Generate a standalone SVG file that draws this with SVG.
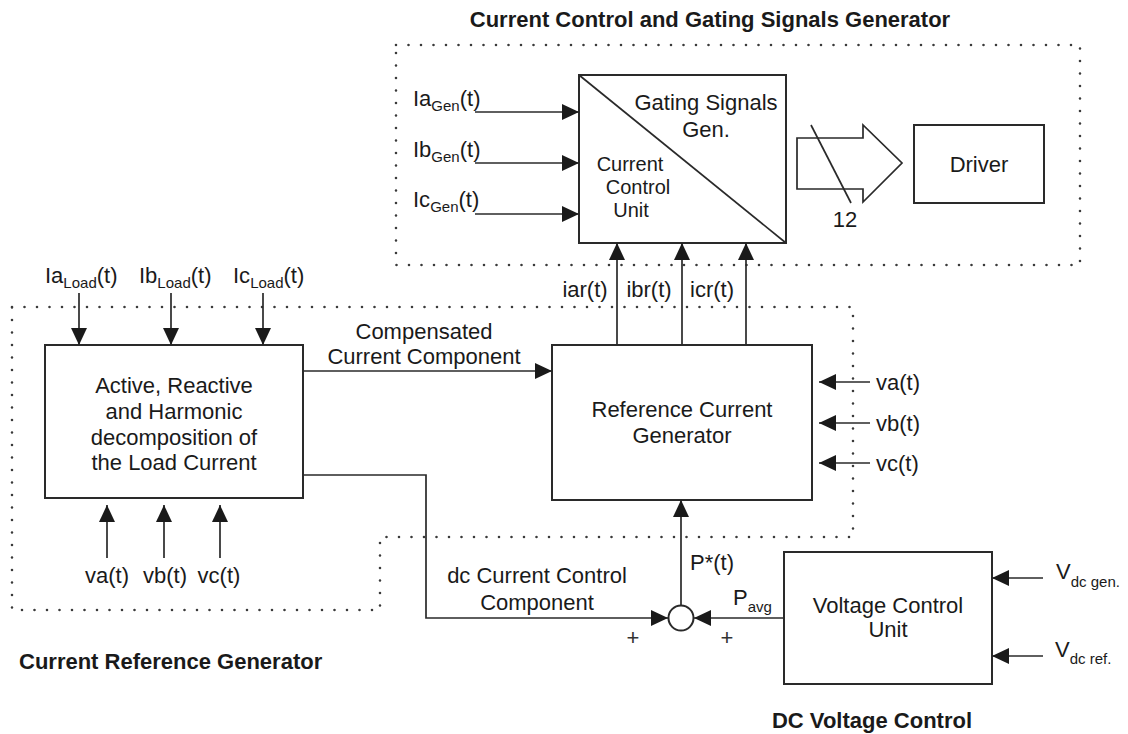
<svg xmlns="http://www.w3.org/2000/svg" width="1128" height="734" viewBox="0 0 1128 734">
<defs>
<marker id="ah" viewBox="0 0 17 16" refX="17" refY="8" markerWidth="17" markerHeight="16" markerUnits="userSpaceOnUse" orient="auto">
<path d="M0,0 L17,8 L0,16 z" fill="#1a1a1a"/>
</marker>
<style>
.t{font-family:"Liberation Sans",Arial,sans-serif;font-size:22px;fill:#1a1a1a}
.c{font-size:20px}
.s{font-size:15px}
.p{font-family:"Liberation Sans",Arial,sans-serif;font-size:22px;fill:#333}
.b{font-family:"Liberation Sans",Arial,sans-serif;font-size:22px;font-weight:bold;fill:#1a1a1a}
.box{fill:#fff;stroke:#2a2a2a;stroke-width:2}
.ln{fill:none;stroke:#2a2a2a;stroke-width:1.7}
.dot{fill:none;stroke:#3a3a3a;stroke-width:2.6;stroke-dasharray:0 12.5;stroke-linecap:round}
</style>
</defs>
<rect width="1128" height="734" fill="#fff"/>

<g id="regions">
<path class="dot" d="M396,45 H1080 V265 H396 Z"/>
<path class="dot" d="M12,307 H853 V537 H380 V610 H12 Z"/>
</g>

<g id="titles">
<text class="b" x="710" y="27" text-anchor="middle">Current Control and Gating Signals Generator</text>
<text class="b" x="19" y="669">Current Reference Generator</text>
<text class="b" x="872" y="728" text-anchor="middle">DC Voltage Control</text>
</g>

<g id="ccu">
<rect class="box" x="579" y="75" width="207" height="168"/>
<line class="ln" x1="579" y1="75" x2="786" y2="243"/>
<text class="t" x="706" y="110" text-anchor="middle">Gating Signals</text>
<text class="t" x="706" y="137" text-anchor="middle">Gen.</text>
<text class="t c" x="630" y="171" text-anchor="middle">Current</text>
<text class="t c" x="638" y="194" text-anchor="middle">Control</text>
<text class="t c" x="631" y="217" text-anchor="middle">Unit</text>
</g>

<g id="bus">
<path class="ln" d="M797,138 H863 V125 L902,163 L863,202 V189 H797 Z"/>
<line class="ln" x1="811" y1="125" x2="851" y2="203"/>
<text class="t" x="845" y="227" text-anchor="middle">12</text>
</g>

<g id="driver">
<rect class="box" x="914" y="125" width="130" height="78"/>
<text class="t" x="979" y="172" text-anchor="middle">Driver</text>
</g>

<g id="gen-inputs">
<text class="t" x="413" y="106">Ia<tspan class="s" dy="5">Gen</tspan><tspan dy="-5">(t)</tspan></text>
<text class="t" x="413" y="157">Ib<tspan class="s" dy="5">Gen</tspan><tspan dy="-5">(t)</tspan></text>
<text class="t" x="413" y="207">Ic<tspan class="s" dy="5">Gen</tspan><tspan dy="-5">(t)</tspan></text>
</g>

<g id="decomp">
<rect class="box" x="45" y="345" width="258" height="153"/>
<text class="t" x="174" y="393" text-anchor="middle">Active, Reactive</text>
<text class="t" x="174" y="419" text-anchor="middle">and Harmonic</text>
<text class="t" x="174" y="445" text-anchor="middle">decomposition of</text>
<text class="t" x="174" y="470" text-anchor="middle">the Load Current</text>
</g>

<g id="load-inputs">
<text class="t" x="45" y="283">Ia<tspan class="s" dy="5">Load</tspan><tspan dy="-5">(t)</tspan></text>
<text class="t" x="139" y="283">Ib<tspan class="s" dy="5">Load</tspan><tspan dy="-5">(t)</tspan></text>
<text class="t" x="233" y="283">Ic<tspan class="s" dy="5">Load</tspan><tspan dy="-5">(t)</tspan></text>
<text class="t" x="107" y="583" text-anchor="middle">va(t)</text>
<text class="t" x="165" y="583" text-anchor="middle">vb(t)</text>
<text class="t" x="219" y="583" text-anchor="middle">vc(t)</text>
</g>

<g id="refgen">
<rect class="box" x="552" y="345" width="260" height="155"/>
<text class="t" x="682" y="417" text-anchor="middle">Reference Current</text>
<text class="t" x="682" y="443" text-anchor="middle">Generator</text>
<text class="t" x="876" y="390">va(t)</text>
<text class="t" x="876" y="431">vb(t)</text>
<text class="t" x="876" y="471">vc(t)</text>
<text class="t" x="585" y="297" text-anchor="middle">iar(t)</text>
<text class="t" x="649" y="297" text-anchor="middle">ibr(t)</text>
<text class="t" x="712" y="297" text-anchor="middle">icr(t)</text>
</g>

<g id="sum">
<circle cx="681" cy="618" r="12.5" fill="#fff" stroke="#2a2a2a" stroke-width="2"/>
<text class="p" x="633" y="645" text-anchor="middle">+</text>
<text class="p" x="727" y="645" text-anchor="middle">+</text>
<text class="t" x="690" y="570">P*(t)</text>
<text class="t" x="733" y="605">P<tspan class="s" dy="7">avg</tspan></text>
</g>

<g id="vcu">
<rect class="box" x="784" y="552" width="208" height="132"/>
<text class="t" x="888" y="613" text-anchor="middle">Voltage Control</text>
<text class="t" x="888" y="637" text-anchor="middle">Unit</text>
<text class="t" x="1056" y="579">V<tspan class="s" dy="8">dc gen.</tspan></text>
<text class="t" x="1055" y="657">V<tspan class="s" dy="7">dc ref.</tspan></text>
</g>

<g id="labels">
<text class="t" x="424" y="339" text-anchor="middle">Compensated</text>
<text class="t" x="424" y="364" text-anchor="middle">Current Component</text>
<text class="t" x="537" y="583" text-anchor="middle">dc Current Control</text>
<text class="t" x="537" y="610" text-anchor="middle">Component</text>
</g>

<g id="connectors">
<line class="ln" x1="475" y1="112" x2="579" y2="112" marker-end="url(#ah)"/>
<line class="ln" x1="475" y1="163" x2="579" y2="163" marker-end="url(#ah)"/>
<line class="ln" x1="475" y1="214" x2="579" y2="214" marker-end="url(#ah)"/>
<line class="ln" x1="617" y1="345" x2="617" y2="243" marker-end="url(#ah)"/>
<line class="ln" x1="682" y1="345" x2="682" y2="243" marker-end="url(#ah)"/>
<line class="ln" x1="746" y1="345" x2="746" y2="243" marker-end="url(#ah)"/>
<line class="ln" x1="79" y1="293" x2="79" y2="345" marker-end="url(#ah)"/>
<line class="ln" x1="171" y1="293" x2="171" y2="345" marker-end="url(#ah)"/>
<line class="ln" x1="263" y1="293" x2="263" y2="345" marker-end="url(#ah)"/>
<line class="ln" x1="107" y1="558" x2="107" y2="505" marker-end="url(#ah)"/>
<line class="ln" x1="164" y1="558" x2="164" y2="505" marker-end="url(#ah)"/>
<line class="ln" x1="220" y1="558" x2="220" y2="505" marker-end="url(#ah)"/>
<line class="ln" x1="303" y1="371" x2="552" y2="371" marker-end="url(#ah)"/>
<line class="ln" x1="870" y1="382" x2="819" y2="382" marker-end="url(#ah)"/>
<line class="ln" x1="870" y1="423" x2="819" y2="423" marker-end="url(#ah)"/>
<line class="ln" x1="870" y1="463" x2="819" y2="463" marker-end="url(#ah)"/>
<path class="ln" d="M303,475 H426 V618 H668" marker-end="url(#ah)"/>
<line class="ln" x1="784" y1="618" x2="694" y2="618" marker-end="url(#ah)"/>
<line class="ln" x1="681" y1="605" x2="681" y2="500" marker-end="url(#ah)"/>
<line class="ln" x1="1043" y1="578" x2="992" y2="578" marker-end="url(#ah)"/>
<line class="ln" x1="1043" y1="656" x2="992" y2="656" marker-end="url(#ah)"/>
</g>
</svg>
